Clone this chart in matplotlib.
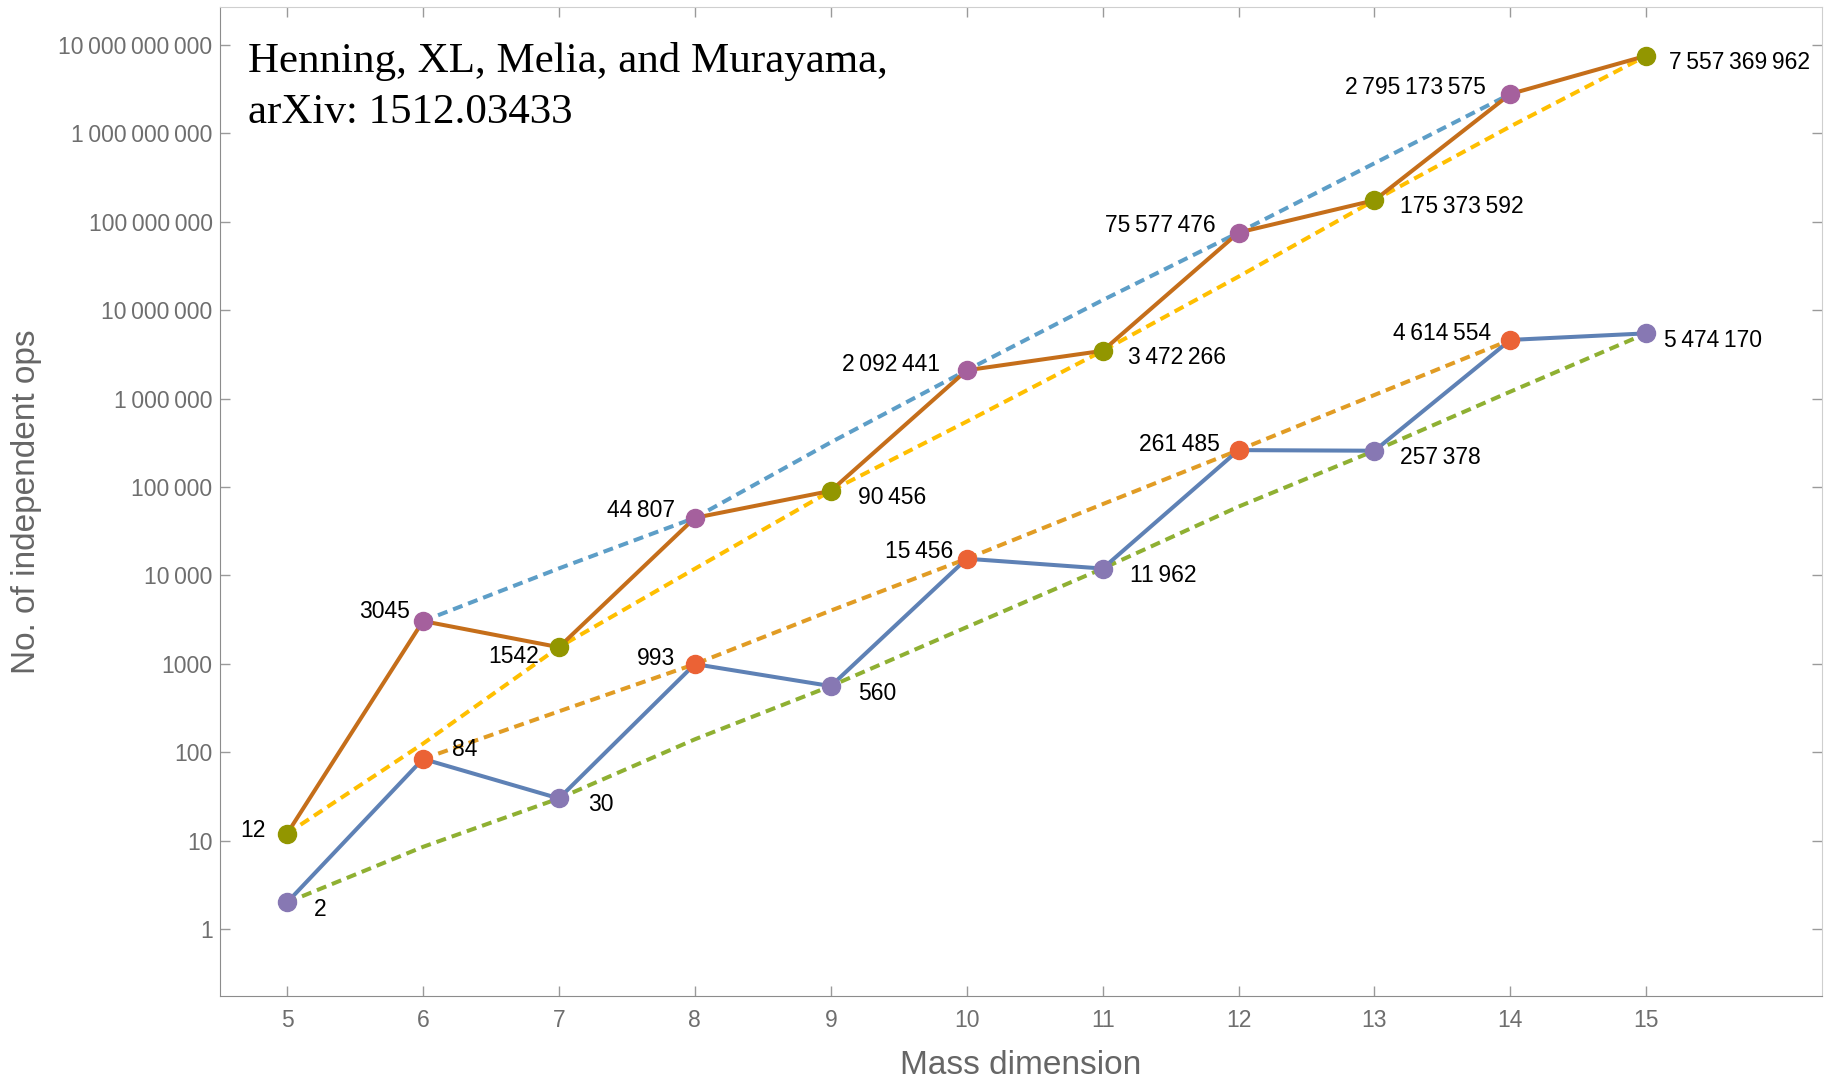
import numpy as np
import matplotlib
matplotlib.use("Agg")
import matplotlib.pyplot as plt
from matplotlib.ticker import FixedLocator, FuncFormatter

plt.rcParams["font.family"] = ["Liberation Sans", "DejaVu Sans"]

# mass dimension
dims = np.arange(5, 16)

# number of independent operators, two counts from the paper
upper_ops = [12, 3045, 1542, 44807, 90456, 2092441, 3472266,
             75577476, 175373592, 2795173575, 7557369962]
lower_ops = [2, 84, 30, 993, 560, 15456, 11962,
             261485, 257378, 4614554, 5474170]

# dashed trend curves at each integer dimension
upper_even_dims = np.arange(6, 15)
upper_even_trend = [3045, 12000, 44807, 320000, 2092441, 13000000,
                    75577476, 460000000, 2795173575]
upper_odd_dims = np.arange(5, 16)
upper_odd_trend = [12, 125, 1542, 11900, 90456, 550000, 3472266,
                   24000000, 175373592, 1200000000, 7557369962]
lower_even_dims = np.arange(6, 15)
lower_even_trend = [84, 290, 993, 4000, 15456, 64000, 261485,
                    1100000, 4614554]
lower_odd_dims = np.arange(5, 16)
lower_odd_trend = [2, 8.5, 30, 140, 560, 2600, 11962, 60000,
                   257378, 1200000, 5474170]

y_ticks = [10 ** k for k in range(0, 11)]

# label placement (offset in pixels, horizontal alignment)
upper_label_pos = [(-21, 3, "right"), (-13, 10, "right"), (-20, -9, "right"),
                   (-20, 7, "right"), (27, -7, "left"), (-27, 6, "right"),
                   (25, -7, "left"), (-23, 7, "right"), (26, -6, "left"),
                   (-25, 6, "right"), (23, -7, "left")]
lower_label_pos = [(27, -7, "left"), (29, 9, "left"), (29, -6, "left"),
                   (-20, 6, "right"), (27, -7, "left"), (-13, 7, "right"),
                   (27, -7, "left"), (-19, 6, "right"), (26, -7, "left"),
                   (-19, 6, "right"), (18, -7, "left")]

C_LOWER = "#5E81B5"
C_UPPER = "#C56E1A"
C_LOWER_EVEN_DASH = "#E19C24"
C_LOWER_ODD_DASH = "#8FB032"
C_UPPER_EVEN_DASH = "#5D9EC7"
C_UPPER_ODD_DASH = "#FFBF00"
C_LOWER_EVEN_PT = "#EB6235"
C_LOWER_ODD_PT = "#8778B3"
C_UPPER_EVEN_PT = "#A5609D"
C_UPPER_ODD_PT = "#929600"


def group_digits(n):
    n = int(n)
    if n >= 10000:
        return f"{n:,}".replace(",", "\u2009")
    return str(n)


fig = plt.figure(figsize=(18.31, 10.81), dpi=100)
ax = fig.add_axes([0.1199, 0.0786, 0.875, 0.9149])

dash = dict(linestyle=(0, (2.5, 1.5)), linewidth=2.9, zorder=2)
ax.plot(upper_even_dims, upper_even_trend, color=C_UPPER_EVEN_DASH, **dash)
ax.plot(upper_odd_dims, upper_odd_trend, color=C_UPPER_ODD_DASH, **dash)
ax.plot(lower_even_dims, lower_even_trend, color=C_LOWER_EVEN_DASH, **dash)
ax.plot(lower_odd_dims, lower_odd_trend, color=C_LOWER_ODD_DASH, **dash)

ax.plot(dims, upper_ops, color=C_UPPER, linewidth=2.9, zorder=3)
ax.plot(dims, lower_ops, color=C_LOWER, linewidth=2.9, zorder=3)

even = dims % 2 == 0
up = np.array(upper_ops, dtype=float)
lo = np.array(lower_ops, dtype=float)
mk = dict(linestyle="none", marker="o", markersize=13, zorder=4)
ax.plot(dims[even], up[even], color=C_UPPER_EVEN_PT, **mk)
ax.plot(dims[~even], up[~even], color=C_UPPER_ODD_PT, **mk)
ax.plot(dims[even], lo[even], color=C_LOWER_EVEN_PT, **mk)
ax.plot(dims[~even], lo[~even], color=C_LOWER_ODD_PT, **mk)

for values, placement in ((upper_ops, upper_label_pos), (lower_ops, lower_label_pos)):
    for d, v, (dx, dy, ha) in zip(dims, values, placement):
        ax.annotate(group_digits(v), (d, v), xytext=(dx, dy),
                    textcoords="offset pixels", ha=ha, va="center",
                    fontsize=16.5, color="black", zorder=5)

ax.set_yscale("log")
ax.set_xlim(4.503, 16.29)
ax.set_ylim(0.1746, 2.69e10)
ax.xaxis.set_major_locator(FixedLocator(dims))
ax.yaxis.set_major_locator(FixedLocator(y_ticks))
ax.yaxis.set_minor_locator(FixedLocator([]))
ax.yaxis.set_major_formatter(FuncFormatter(lambda v, pos: group_digits(v)))

ax.tick_params(axis="both", which="major", direction="in", length=7,
               width=1, color="#9a9a9a", labelcolor="#6e6e6e",
               labelsize=16.5, top=True, right=True)
ax.tick_params(axis="x", pad=9)
ax.tick_params(axis="y", pad=5)
for side in ("left", "bottom"):
    ax.spines[side].set_color("#8c8c8c")
for side in ("top", "right"):
    ax.spines[side].set_color("#cfcfcf")

ax.set_xlabel("Mass dimension", fontsize=24, color="#666666")
ax.set_ylabel("No. of independent ops", fontsize=24, color="#666666")
ax.xaxis.set_label_coords(0.5, -0.055)
ax.yaxis.set_label_coords(-0.111, 0.5)

fig.text(0.1352, 0.9334, "Henning, XL, Melia, and Murayama,",
         family="Liberation Serif", fontsize=31, va="baseline")
fig.text(0.1352, 0.8862, "arXiv: 1512.03433",
         family="Liberation Serif", fontsize=31, va="baseline")

fig.savefig("out.png", dpi=100)
